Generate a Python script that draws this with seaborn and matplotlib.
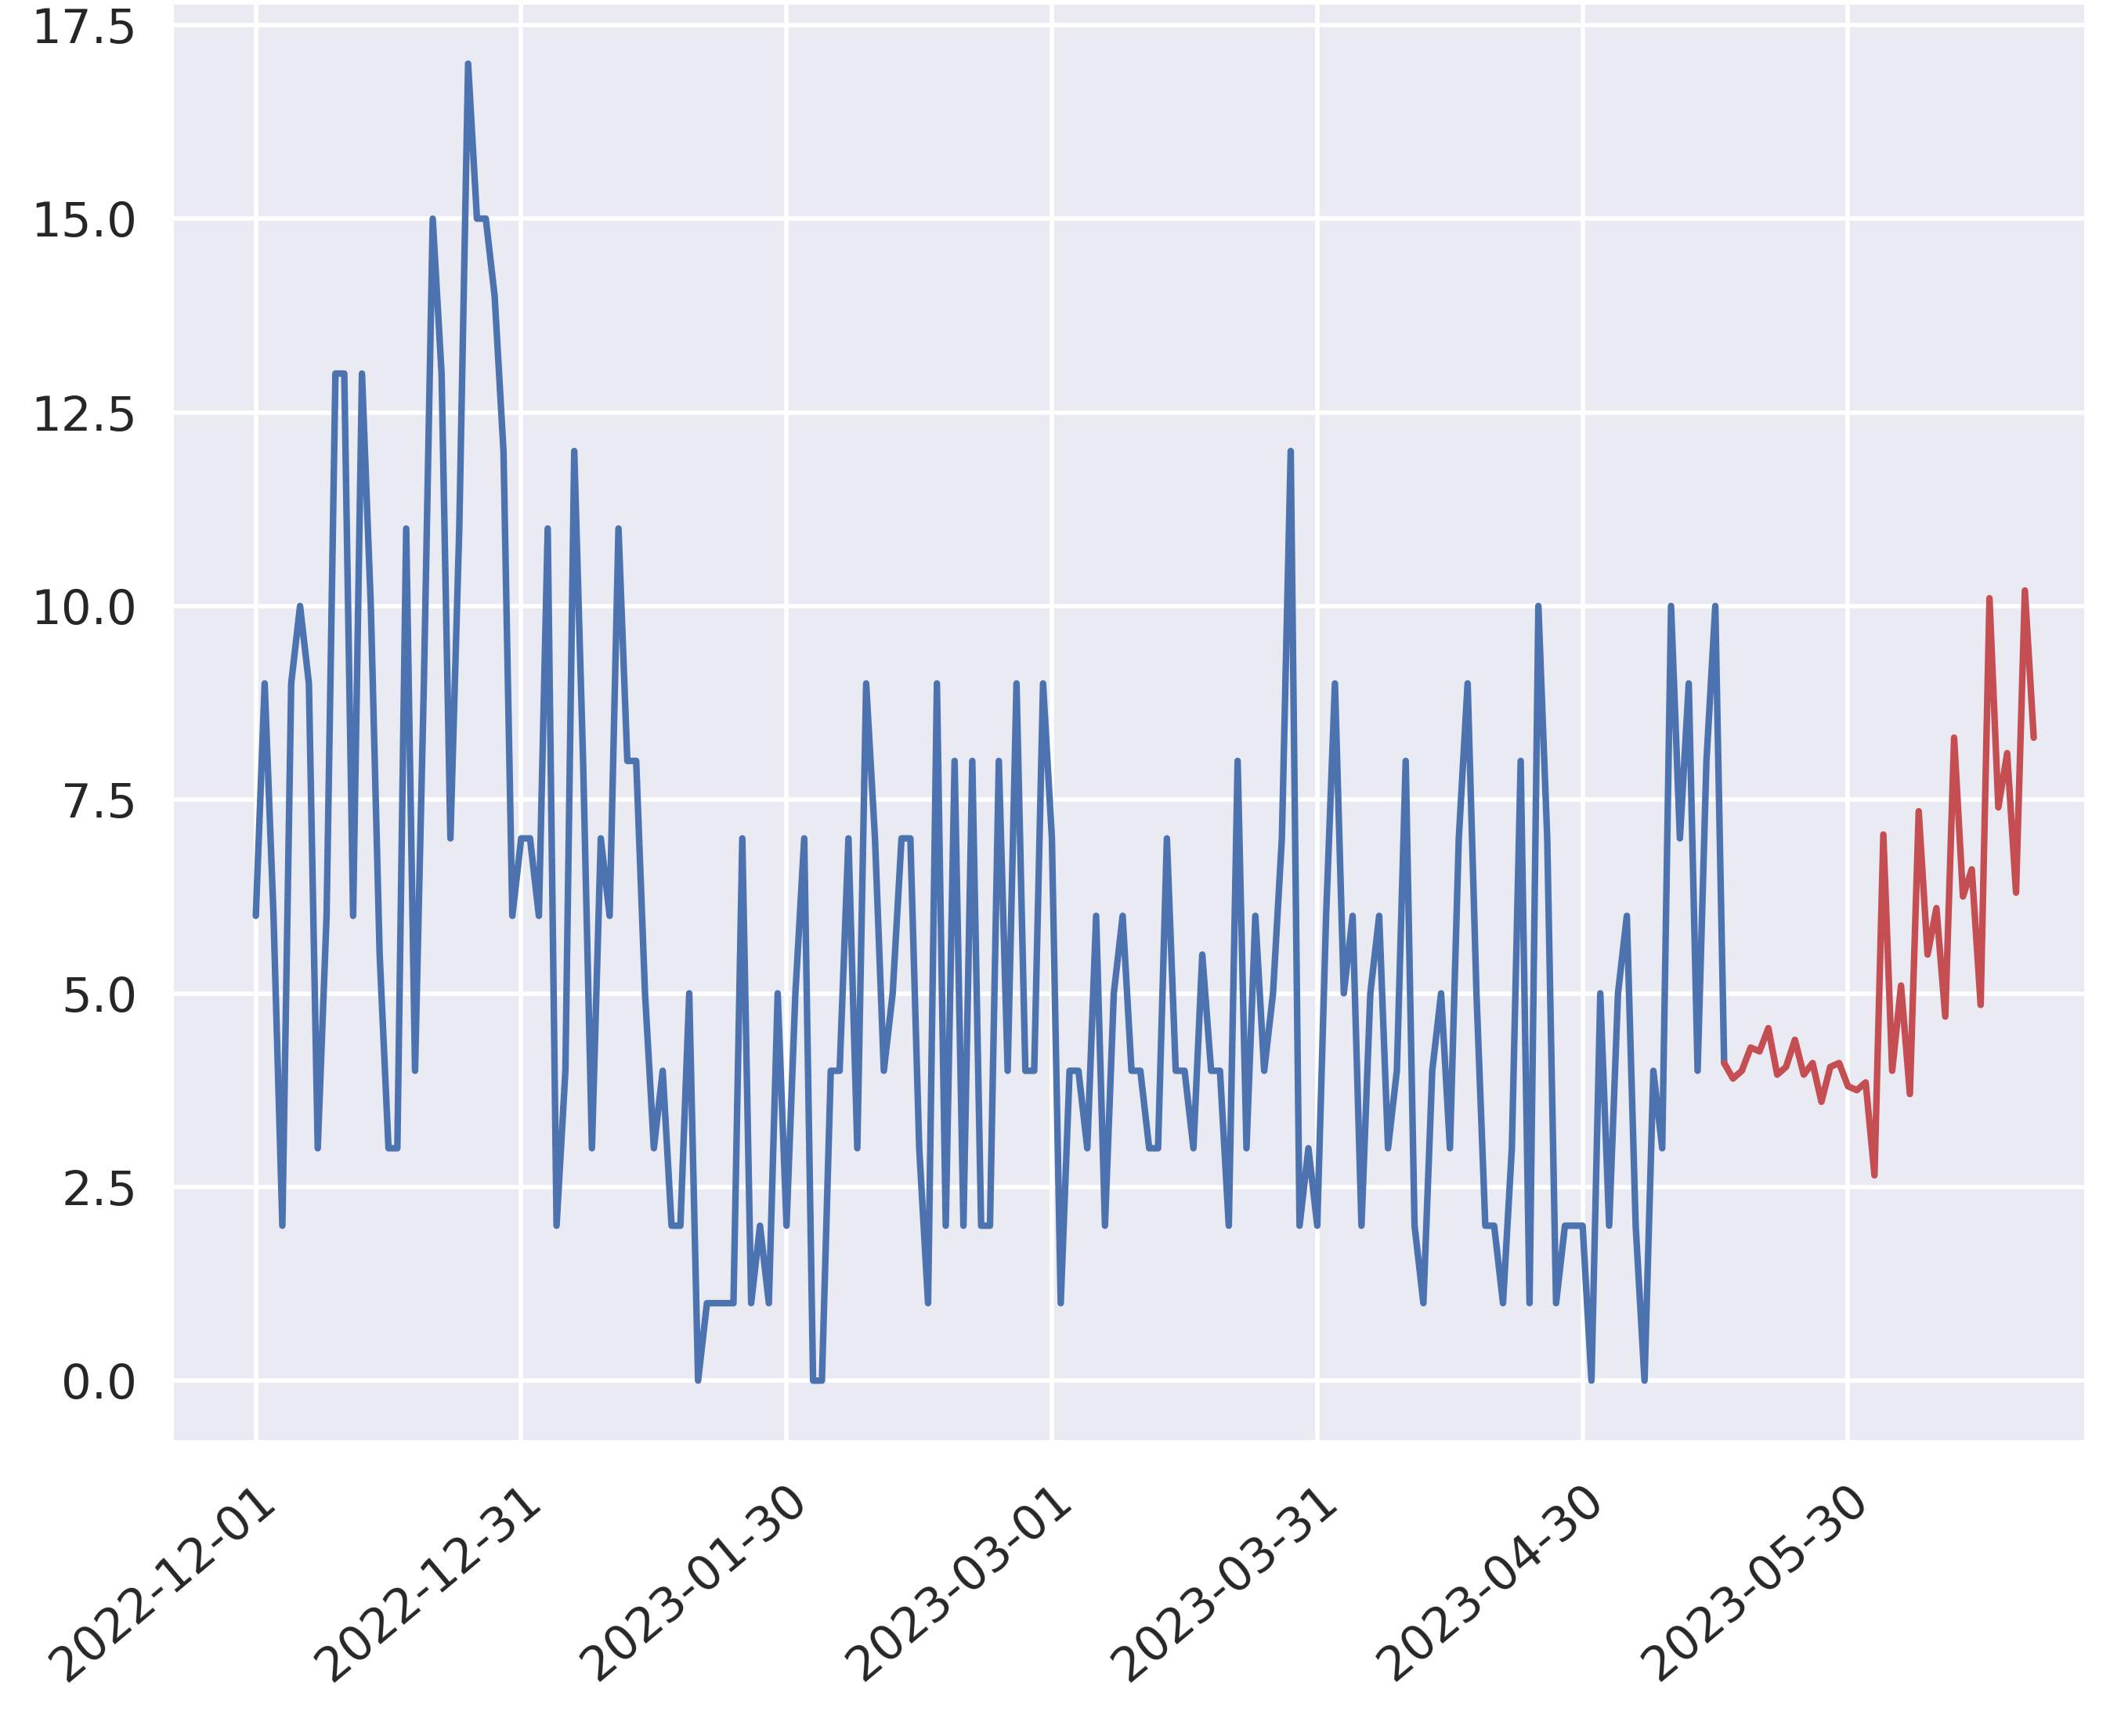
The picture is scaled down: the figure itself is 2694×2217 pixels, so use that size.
import numpy as np
import pandas as pd
import matplotlib.pyplot as plt
import matplotlib.dates as mdates
import seaborn as sns

START = "2022-12-01"

observed = [
    6, 9, 6, 2, 9, 10, 9, 3, 6, 13, 13, 6, 13, 10, 5.5, 3, 3, 11, 4, 9,
    15, 13, 7, 11, 17, 15, 15, 14, 12, 6, 7, 7, 6, 11, 2, 4, 12, 8, 3, 7,
    6, 11, 8, 8, 5, 3, 4, 2, 2, 5, 0, 1, 1, 1, 1, 7, 1, 2, 1, 5,
    2, 5, 7, 0, 0, 4, 4, 7, 3, 9, 7, 4, 5, 7, 7, 3, 1, 9, 2, 8,
    2, 8, 2, 2, 8, 4, 9, 4, 4, 9, 7, 1, 4, 4, 3, 6, 2, 5, 6, 4,
    4, 3, 3, 7, 4, 4, 3, 5.5, 4, 4, 2, 8, 3, 6, 4, 5, 7, 12, 2, 3,
    2, 6, 9, 5, 6, 2, 5, 6, 3, 4, 8, 2, 1, 4, 5, 3, 7, 9, 5, 2,
    2, 1, 3, 8, 1, 10, 7, 1, 2, 2, 2, 0, 5, 2, 5, 6, 2, 0, 4, 3,
    10, 7, 9, 4, 8, 10, 4.1,
]

forecast = [
    4.1, 3.9, 4.0, 4.3, 4.25, 4.55, 3.95, 4.05, 4.4, 3.95, 4.1, 3.6,
    4.05, 4.1, 3.8, 3.75, 3.85, 2.65, 7.05, 4.0, 5.1, 3.7, 7.35, 5.5,
    6.1, 4.7, 8.3, 6.25, 6.6, 4.85, 10.1, 7.4, 8.1, 6.3, 10.2, 8.3,
]

obs_dates = pd.date_range(START, periods=len(observed), freq="D")
fc_dates = pd.date_range(obs_dates[-1], periods=len(forecast), freq="D")
obs = pd.DataFrame({"date": obs_dates, "value": observed})
fc = pd.DataFrame({"date": fc_dates, "value": forecast})

sns.set_theme(style="darkgrid", context="poster")

fig, ax = plt.subplots(figsize=(13.47, 11.085))
sns.lineplot(data=obs, x="date", y="value", color="b", ax=ax)
sns.lineplot(data=fc, x="date", y="value", color="r", ax=ax)

ticks = pd.date_range(START, periods=7, freq="30D")
ax.set_xticks(ticks)
ax.xaxis.set_major_formatter(mdates.DateFormatter("%Y-%m-%d"))
plt.setp(ax.get_xticklabels(), rotation=40, ha="right", rotation_mode="anchor")
ax.set_xlim(pd.Timestamp(START) - pd.Timedelta(days=9.6),
            pd.Timestamp(START) + pd.Timedelta(days=207))
ax.set_ylim(-0.8, 17.8)
ax.set_yticks(np.arange(0, 17.6, 2.5))
ax.set_xlabel("")
ax.set_ylabel("")

fig.subplots_adjust(left=0.081, right=0.989, top=0.999, bottom=0.169)
plt.savefig("out.png", dpi=200)
plt.close()
